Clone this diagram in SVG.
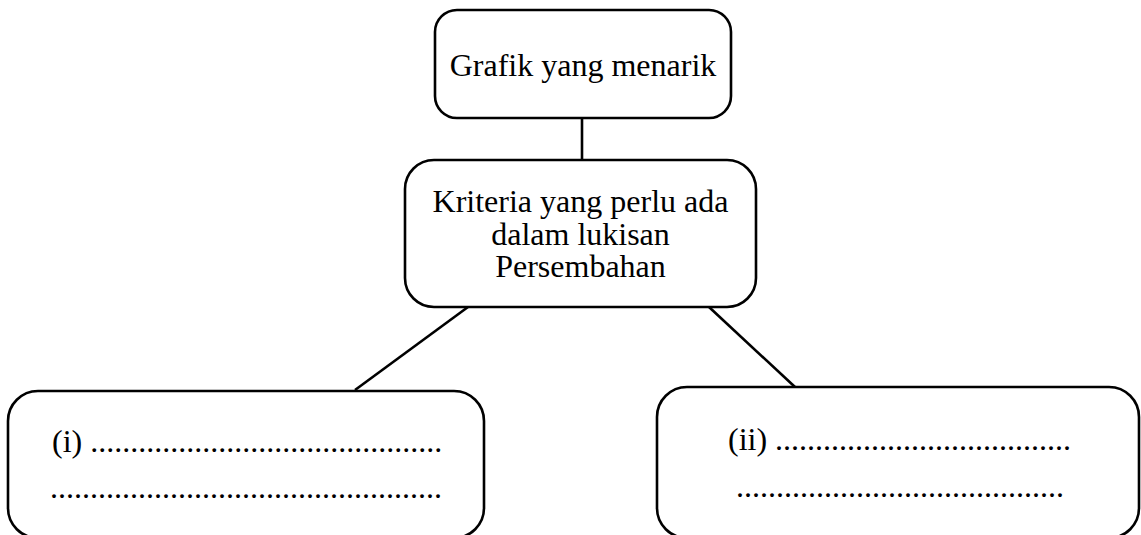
<svg xmlns="http://www.w3.org/2000/svg" width="1141" height="535" viewBox="0 0 1141 535">
<style>
.box{fill:#fff;stroke:#000;stroke-width:2.6}
.t{font-family:"Liberation Serif","Times New Roman",serif;font-size:32px;fill:#000}
.c{text-anchor:middle}
.ln{stroke:#000;stroke-width:2.6;fill:none}
</style>
<rect width="1141" height="535" fill="#fff"/>
<g id="connectors">
<line class="ln" x1="582" y1="118" x2="582" y2="161"/>
<line class="ln" x1="468" y1="307" x2="355" y2="390"/>
<line class="ln" x1="709" y1="307" x2="795" y2="387"/>
</g>
<g id="node-top">
<rect class="box" x="435" y="10" width="296" height="108" rx="22"/>
<text class="t c" x="583" y="76">Grafik yang menarik</text>
</g>
<g id="node-middle">
<rect class="box" x="405" y="160" width="351" height="147" rx="29"/>
<text class="t c" x="580.5" y="212">Kriteria yang perlu ada</text>
<text class="t c" x="580.5" y="244.5">dalam lukisan</text>
<text class="t c" x="580.5" y="277">Persembahan</text>
</g>
<g id="node-left">
<rect class="box" x="8" y="391" width="476" height="147" rx="30"/>
<text class="t" x="52" y="452">(i) ............................................</text>
<text class="t" x="50" y="498">.................................................</text>
</g>
<g id="node-right">
<rect class="box" x="657" y="387" width="482" height="151" rx="30"/>
<text class="t" x="728" y="450">(ii) .....................................</text>
<text class="t" x="736" y="497">.........................................</text>
</g>
</svg>
